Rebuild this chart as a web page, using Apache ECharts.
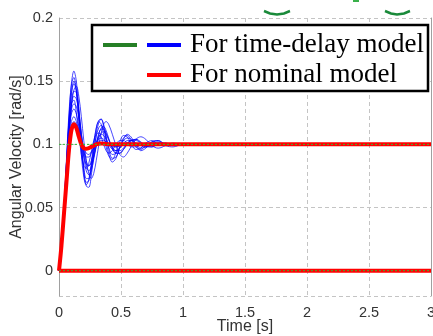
<!DOCTYPE html>
<html><head><meta charset="utf-8">
<script src="https://cdn.jsdelivr.net/npm/echarts@6/dist/echarts.min.js"></script>
<style>html,body{margin:0;padding:0;background:#fff}#c{width:433px;height:336px}</style>
</head><body><div id="c"></div>
<script>
// shared time samples (s)
var T = [0,0.02,0.04,0.06,0.08,0.10,0.12,0.14,0.16,0.18,0.20,0.22,0.24,0.26,0.28,0.30,0.32,0.34,0.36,0.38,0.40,0.43,0.46,0.49,0.52,0.55,0.58,0.62,0.66,0.70,0.75,0.80,0.86,0.92,1.0,3.0];
// time-delay model responses (blue)
var blue1  = [0,0.02,0.05,0.085,0.12,0.148,0.158,0.15,0.128,0.1,0.078,0.067,0.066,0.075,0.092,0.108,0.117,0.12,0.116,0.107,0.097,0.089,0.09,0.097,0.104,0.108,0.106,0.1,0.095,0.097,0.102,0.103,0.1,0.099,0.1,0.1];
var blue2  = [0,0.02,0.048,0.082,0.115,0.14,0.15,0.143,0.124,0.1,0.082,0.073,0.073,0.08,0.094,0.106,0.113,0.115,0.112,0.105,0.098,0.092,0.093,0.098,0.103,0.105,0.104,0.1,0.097,0.098,0.101,0.102,0.1,0.1,0.1,0.1];
var blue3  = [0,0.019,0.046,0.078,0.108,0.132,0.142,0.141,0.128,0.108,0.09,0.079,0.076,0.079,0.088,0.099,0.108,0.113,0.114,0.111,0.105,0.097,0.093,0.093,0.096,0.1,0.103,0.104,0.101,0.098,0.098,0.101,0.101,0.1,0.1,0.1];
var blue4  = [0,0.021,0.05,0.085,0.115,0.132,0.135,0.125,0.108,0.092,0.083,0.081,0.085,0.094,0.103,0.108,0.109,0.106,0.1,0.095,0.093,0.095,0.1,0.103,0.103,0.101,0.098,0.098,0.1,0.101,0.1,0.1,0.1,0.1,0.1,0.1];
var blue5  = [0,0.02,0.048,0.08,0.108,0.124,0.128,0.124,0.114,0.101,0.09,0.084,0.083,0.087,0.094,0.101,0.106,0.108,0.107,0.104,0.1,0.096,0.095,0.097,0.1,0.103,0.103,0.101,0.099,0.098,0.1,0.101,0.1,0.1,0.1,0.1];
var blue6  = [0,0.02,0.047,0.076,0.102,0.118,0.122,0.118,0.11,0.101,0.094,0.09,0.09,0.093,0.097,0.101,0.104,0.105,0.104,0.102,0.1,0.098,0.098,0.099,0.1,0.101,0.101,0.1,0.1,0.1,0.1,0.1,0.1,0.1,0.1,0.1];
var blue7  = [0,0.018,0.044,0.075,0.105,0.13,0.143,0.146,0.138,0.122,0.103,0.087,0.077,0.073,0.077,0.087,0.099,0.109,0.116,0.118,0.116,0.108,0.099,0.092,0.09,0.093,0.098,0.104,0.106,0.104,0.099,0.097,0.099,0.101,0.1,0.1];
var blue8  = [0,0.021,0.051,0.088,0.124,0.147,0.153,0.142,0.118,0.092,0.074,0.068,0.072,0.085,0.101,0.113,0.118,0.116,0.108,0.098,0.091,0.088,0.094,0.102,0.107,0.106,0.101,0.096,0.097,0.101,0.103,0.1,0.099,0.1,0.1,0.1];
var blue9  = [0,0.019,0.046,0.079,0.11,0.131,0.138,0.136,0.125,0.109,0.094,0.083,0.079,0.082,0.09,0.1,0.108,0.112,0.112,0.109,0.104,0.097,0.093,0.093,0.096,0.1,0.103,0.104,0.102,0.099,0.098,0.1,0.101,0.1,0.1,0.1];
var blue10 = [0,0.02,0.046,0.075,0.1,0.114,0.118,0.116,0.11,0.103,0.097,0.093,0.092,0.094,0.097,0.1,0.102,0.103,0.103,0.102,0.1,0.099,0.098,0.099,0.1,0.101,0.1,0.1,0.1,0.1,0.1,0.1,0.1,0.1,0.1,0.1];
var blue11 = [0,0.02,0.049,0.084,0.118,0.14,0.148,0.142,0.123,0.099,0.079,0.07,0.071,0.082,0.099,0.112,0.119,0.12,0.114,0.103,0.093,0.086,0.089,0.098,0.105,0.107,0.104,0.098,0.096,0.099,0.102,0.103,0.099,0.098,0.1,0.1];
var blue12 = [0,0.019,0.047,0.079,0.108,0.127,0.132,0.13,0.121,0.108,0.096,0.087,0.083,0.085,0.09,0.098,0.105,0.109,0.11,0.108,0.104,0.098,0.095,0.095,0.097,0.101,0.103,0.103,0.101,0.099,0.099,0.1,0.1,0.1,0.1,0.1];
// nominal model response (red)
var nominal = [0,0.02,0.045,0.07,0.095,0.111,0.116,0.113,0.106,0.1,0.097,0.0965,0.097,0.098,0.099,0.1,0.1005,0.1007,0.1005,0.1003,0.1,0.1,0.1,0.1,0.1,0.1,0.1,0.1,0.1,0.1,0.1,0.1,0.1,0.1,0.1,0.1];
// zero-input response and reference level
var zeroT = [0,3], zeroV = [0,0];
var refT = [0,3], refV = [0.1,0.1];
var xTicks = [0,0.5,1,1.5,2,2.5,3];
var legendLabels = ['For time-delay model','For nominal model'];

function pairs(t,v){return t.map(function(x,i){return [x,v[i]];});}
var blues=[blue1,blue2,blue3,blue4,blue5,blue6,blue7,blue8,blue9,blue10,blue11,blue12];
var series=[];
blues.forEach(function(b){
  series.push({type:'line',data:pairs(T,b),smooth:0.35,showSymbol:false,silent:true,
    lineStyle:{color:'#0000ff',width:0.9,opacity:0.8},z:2});
});
series.push({type:'line',data:pairs(T,nominal),smooth:0.3,showSymbol:false,lineStyle:{color:'#ff0000',width:4},z:3});
series.push({type:'line',data:pairs(zeroT,zeroV),showSymbol:false,lineStyle:{color:'#ff0000',width:4},z:3});
series.push({type:'line',data:pairs(refT,refV),showSymbol:false,lineStyle:{color:'#33bb33',width:1,type:[2,2]},z:4});
series.push({type:'line',data:pairs(zeroT,zeroV),showSymbol:false,lineStyle:{color:'#33bb33',width:1,type:[2,2]},z:4});

var chart=echarts.init(document.getElementById('c'),null,{renderer:'canvas'});
var axisFont='"Liberation Sans", Arial, sans-serif';
chart.setOption({
  animation:false,
  backgroundColor:'#fff',
  grid:{left:59,right:2,top:18,bottom:40,containLabel:false,outerBoundsMode:'none'},
  xAxis:{type:'value',min:xTicks[0],max:xTicks[xTicks.length-1],interval:0.5,
    name:'Time [s]',nameLocation:'middle',nameGap:23,nameMoveOverlap:false,
    nameTextStyle:{fontFamily:axisFont,fontSize:16,color:'#333'},
    axisLine:{show:true,lineStyle:{color:'#a0a0a0',width:1}},
    axisTick:{show:false},
    axisLabel:{fontFamily:axisFont,fontSize:14.5,color:'#333',margin:9},
    splitLine:{show:true,lineStyle:{color:'#c4c4c4',width:1,type:[4,3]}}},
  yAxis:[{type:'value',min:-0.02,max:0.2,
    name:'Angular Velocity [rad/s]',nameLocation:'middle',nameGap:34,nameMoveOverlap:false,
    nameTextStyle:{fontFamily:axisFont,fontSize:16,color:'#333'},
    axisLine:{show:true,onZero:false,lineStyle:{color:'#a0a0a0',width:1}},
    axisTick:{show:false},
    axisLabel:{fontFamily:axisFont,fontSize:14.5,color:'#333',margin:6,showMinLabel:false},
    splitLine:{show:true,lineStyle:{color:'#c4c4c4',width:1,type:[4,3]}}},
   {type:'value',min:-0.02,max:0.2,position:'right',
    axisLine:{show:true,onZero:false,lineStyle:{color:'#a0a0a0',width:1}},
    axisTick:{show:false},axisLabel:{show:false},splitLine:{show:false}}],
  series:series,
  graphic:[
    {type:'rect',shape:{x:92,y:25,width:336,height:66},style:{fill:'#fff',stroke:'#000',lineWidth:2.5},z:100},
    {type:'line',shape:{x1:103,y1:45,x2:137,y2:45},style:{stroke:'#267f26',lineWidth:4},z:101},
    {type:'line',shape:{x1:147,y1:45,x2:181,y2:45},style:{stroke:'#0000ff',lineWidth:4},z:101},
    {type:'line',shape:{x1:147,y1:75,x2:181,y2:75},style:{stroke:'#ff0000',lineWidth:4},z:101},
    {type:'text',x:190,y:45,style:{text:legendLabels[0],font:'27px "Liberation Serif", "Times New Roman", serif',fill:'#000',verticalAlign:'middle'},z:101},
    {type:'text',x:190,y:75,style:{text:legendLabels[1],font:'27px "Liberation Serif", "Times New Roman", serif',fill:'#000',verticalAlign:'middle'},z:101},
    {type:'polyline',shape:{points:[[264,11],[270,13.5],[277,14.5],[284,13.5],[290,11]]},style:{stroke:'#1a8a3a',lineWidth:2.5,fill:null},z:101},
    {type:'polyline',shape:{points:[[385,11],[391,13.5],[397,14.5],[404,13.5],[410,11]]},style:{stroke:'#1a8a3a',lineWidth:2.5,fill:null},z:101},
    {type:'rect',shape:{x:353,y:0,width:6,height:2},style:{fill:'#3ab04a'},z:101}
  ]
});
</script></body></html>
